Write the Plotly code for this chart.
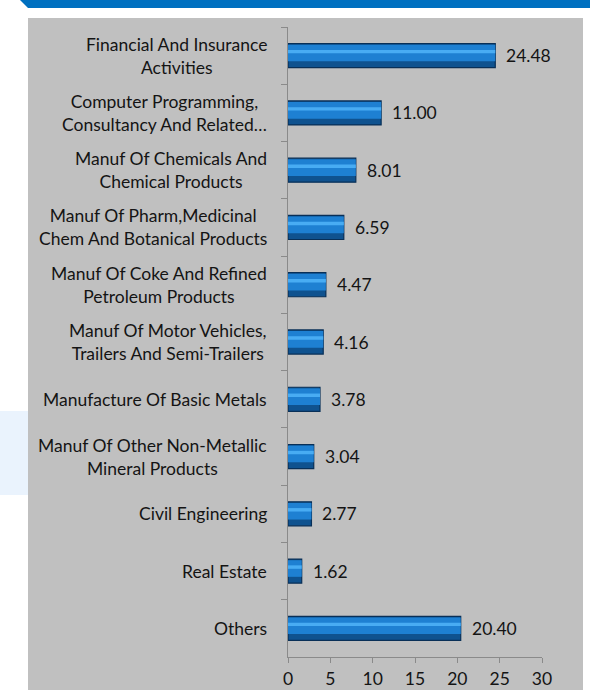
import plotly.graph_objects as go

categories = [
    "Financial And Insurance<br>Activities",
    "Computer Programming,<br>Consultancy And Related…",
    "Manuf Of Chemicals And<br>Chemical Products",
    "Manuf Of Pharm,Medicinal<br>Chem And Botanical Products",
    "Manuf Of Coke And Refined<br>Petroleum Products",
    "Manuf Of Motor Vehicles,<br>Trailers And Semi-Trailers",
    "Manufacture Of Basic Metals",
    "Manuf Of Other Non-Metallic<br>Mineral Products",
    "Civil Engineering",
    "Real Estate",
    "Others",
]
values = [24.48, 11.00, 8.01, 6.59, 4.47, 4.16, 3.78, 3.04, 2.77, 1.62, 20.40]
x_ticks = [0, 5, 10, 15, 20, 25, 30]

W, H = 611, 690
L, R, T, B = 288, 69, 27, 33
PW, PH = W - L - R, H - T - B


def px(x):
    return (x - L) / PW


def py(y):
    return (H - B - y) / PH


FONT = "Lato"
FS = 17.5
TXT = "#141414"
fig = go.Figure()
fig.add_trace(go.Bar(
    y=categories, x=values, orientation="h", width=0.42,
    marker=dict(color="#0f528f", line=dict(color="#082f57", width=1.2)),
    hoverinfo="x+y",
))
fig.add_trace(go.Bar(
    y=categories, x=values, orientation="h", width=0.29, offset=-0.19,
    marker=dict(color="#1e80d2", line=dict(width=0)), hoverinfo="skip",
))
fig.add_trace(go.Bar(
    y=categories, x=values, orientation="h", width=0.06, offset=-0.10,
    marker=dict(color="#48acf3", line=dict(width=0)), hoverinfo="skip",
))

annotations = []
for c, v in zip(categories, values):
    annotations.append(dict(
        x=0, xref="paper", y=c, yref="y", text=c, showarrow=False,
        xanchor="right", align="center", xshift=-19,
        font=dict(family=FONT, size=FS, color=TXT),
    ))
    annotations.append(dict(
        x=v, xref="x", y=c, yref="y", text=f"{v:.2f}", showarrow=False,
        xanchor="left", xshift=9,
        font=dict(family=FONT, size=FS, color=TXT),
    ))

shapes = [
    dict(type="rect", xref="paper", yref="paper", x0=px(28), x1=px(583),
         y0=py(18), y1=py(690), fillcolor="#c0c0c0", line=dict(width=0), layer="below"),
    dict(type="path", xref="paper", yref="paper",
         path=f"M {px(20)},{py(0)} L {px(590)},{py(0)} L {px(590)},{py(8)} L {px(28)},{py(8)} Z",
         fillcolor="#0070c0", line=dict(width=0), layer="below"),
    dict(type="rect", xref="paper", yref="paper", x0=px(0), x1=px(28),
         y0=py(411), y1=py(495), fillcolor="#eaf3fd", line=dict(width=0), layer="below"),
]

fig.update_layout(
    width=W, height=H,
    margin=dict(l=L, r=R, t=T, b=B, pad=0, autoexpand=False),
    paper_bgcolor="white", plot_bgcolor="rgba(0,0,0,0)",
    barmode="overlay", showlegend=False,
    shapes=shapes, annotations=annotations,
    font=dict(family=FONT, size=FS, color=TXT),
)
fig.update_xaxes(
    range=[0, 30], tickvals=x_ticks, showgrid=False, zeroline=False,
    showline=True, linecolor="#8a8a8a", linewidth=1, automargin=False,
    ticks="outside", ticklen=5, tickcolor="#8a8a8a", ticklabelstandoff=1,
    tickfont=dict(family=FONT, size=FS, color=TXT),
)
fig.update_yaxes(
    categoryorder="array", categoryarray=categories, autorange="reversed",
    showticklabels=False, showgrid=False, zeroline=False, automargin=False,
    showline=True, linecolor="#8a8a8a", linewidth=1,
    ticks="outside", ticklen=6, tickcolor="#8a8a8a", tickson="boundaries",
)

fig.write_html("out.html")
